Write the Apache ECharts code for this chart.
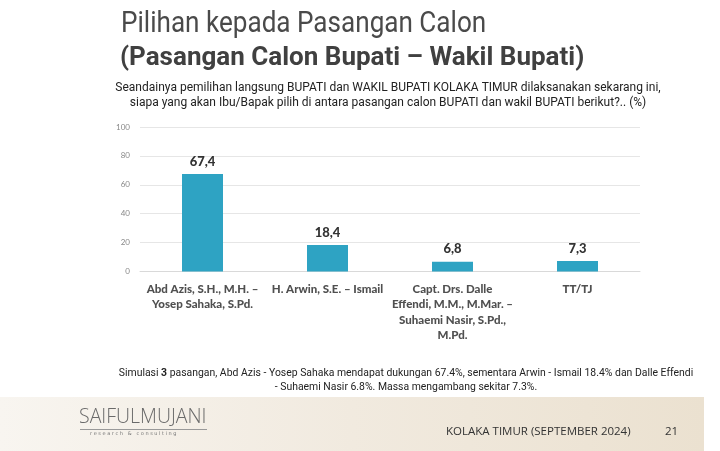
<!DOCTYPE html>
<html><head><meta charset="utf-8">
<script src="https://cdn.jsdelivr.net/npm/echarts@6/dist/echarts.min.js"></script>
<style>html,body{margin:0;padding:0;background:#fff}#c{width:720px;height:451px}</style>
</head><body><div id="c"></div>
<script>
const categories = [
  'Abd Azis, S.H., M.H. –\nYosep Sahaka, S.Pd.',
  'H. Arwin, S.E. – Ismail',
  'Capt. Drs. Dalle\nEffendi, M.M., M.Mar. –\nSuhaemi Nasir, S.Pd.,\nM.Pd.',
  'TT/TJ'
];
const values = [67.4, 18.4, 6.8, 7.3];
const yTicks = [0, 20, 40, 60, 80, 100];

const chart = echarts.init(document.getElementById('c'));
chart.setOption({
  backgroundColor: '#ffffff',
  animation: false,
  title: [
    { text: '(Pasangan Calon Bupati – Wakil Bupati)', left: 115, top: 40,
      textStyle: { fontFamily: 'Roboto, Liberation Sans', fontWeight: 'bold', fontSize: 26, color: '#404040' } }
  ],
  graphic: [
    { type: 'rect', z: -10, shape: { x: 0, y: 397, width: 704, height: 54 },
      style: { fill: new echarts.graphic.LinearGradient(0, 0, 1, 0, [
        { offset: 0, color: '#f8f5f0' }, { offset: 0.5, color: '#f1eadf' }, { offset: 1, color: '#ebe1d0' }]) } },
    { type: 'text', x: 121, y: 10, scaleX: 0.9,
      style: { text: 'Pilihan kepada Pasangan Calon', font: '29px Roboto', fill: '#4a4a4a', textVerticalAlign: 'top' } },
    { type: 'text', x: 388, y: 80, scaleX: 1,
      style: { text: 'Seandainya pemilihan langsung BUPATI dan WAKIL BUPATI KOLAKA TIMUR dilaksanakan sekarang ini,\nsiapa yang akan Ibu/Bapak pilih di antara pasangan calon BUPATI dan wakil BUPATI berikut?.. (%)',
        font: '12px Roboto', lineHeight: 15.5, fill: '#222', textAlign: 'center', textVerticalAlign: 'top' } },
    { type: 'text', x: 406, y: 366, scaleX: 0.965,
      style: { text: 'Simulasi {b|3} pasangan, Abd Azis - Yosep Sahaka mendapat dukungan 67.4%, sementara Arwin - Ismail 18.4% dan Dalle Effendi\n- Suhaemi Nasir 6.8%. Massa mengambang sekitar 7.3%.',
        font: '10.8px Roboto', lineHeight: 14, fill: '#222', textAlign: 'center', textVerticalAlign: 'top',
        rich: { b: { fontWeight: 'bold', fontSize: 10.8, fontFamily: 'Roboto', fill: '#222' } } } },
    { type: 'text', left: 79, top: 407, style: { text: 'SAIFULMUJANI', font: '300 19.5px "Open Sans", Lato', fill: '#6a6a6a' } },
    { type: 'rect', shape: { x: 80, y: 429, width: 127, height: 1 }, style: { fill: '#999' } },
    { type: 'text', left: 90, top: 431, style: { text: 'r e s e a r c h   &   c o n s u l t i n g', font: '5px "DejaVu Sans"', fill: '#777' } },
    { type: 'text', left: 446, top: 426, style: { text: 'KOLAKA TIMUR (SEPTEMBER 2024)', font: '11.5px "Open Sans"', fill: '#333' } },
    { type: 'text', left: 665, top: 426, style: { text: '21', font: '11.5px "Open Sans"', fill: '#333' } }
  ],
  grid: { left: 140, right: 80, top: 127, bottom: 179.5, containLabel: false },
  xAxis: {
    type: 'category', data: categories,
    axisLine: { show: true, lineStyle: { color: '#d9d9d9' } },
    axisTick: { show: false },
    axisLabel: { interval: 0, margin: 10, fontFamily: 'Lato', fontWeight: 900, fontSize: 11.5, lineHeight: 15.5, color: '#505050', align: 'center' }
  },
  yAxis: {
    type: 'value', min: 0, max: 100, interval: 20,
    axisLine: { show: false }, axisTick: { show: false },
    splitLine: { lineStyle: { color: '#e6e6e6', width: 1 } },
    axisLabel: { fontFamily: 'Lato', fontSize: 8, color: '#888', margin: 10,
      formatter: v => yTicks.includes(v) ? String(v) : '' }
  },
  series: [{
    type: 'bar', data: values, barWidth: 41,
    itemStyle: { color: '#2ea3c3' },
    label: { show: true, position: 'top', distance: 6, fontFamily: 'Lato', fontWeight: 900, fontSize: 13, color: '#333',
      formatter: p => String(p.value).replace('.', ',') }
  }]
});
</script></body></html>
